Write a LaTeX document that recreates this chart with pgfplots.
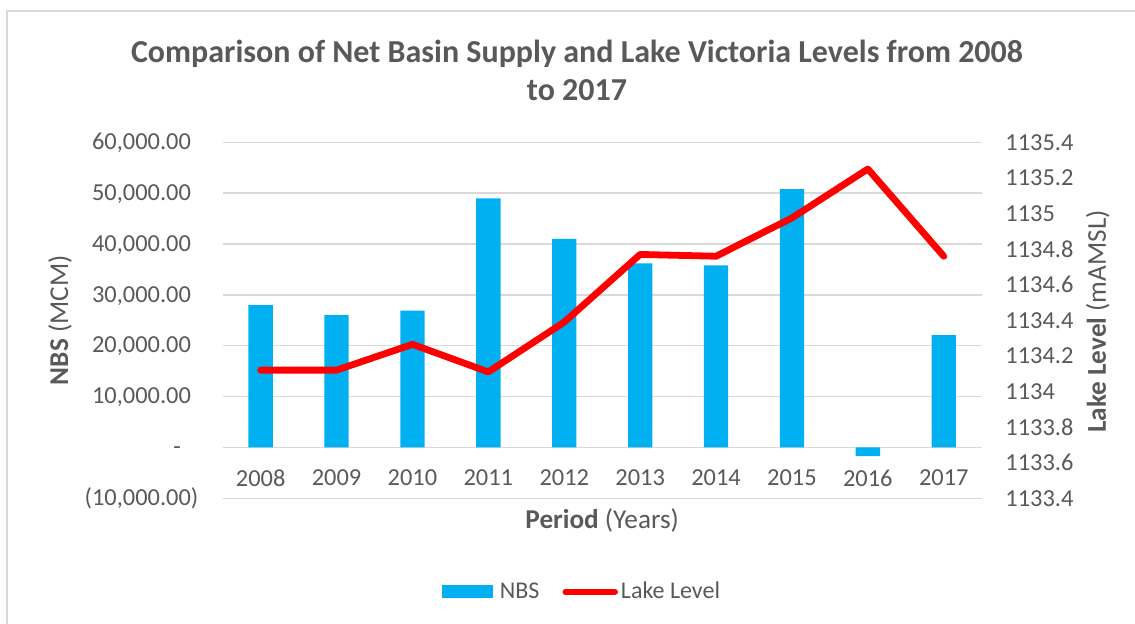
\documentclass[border=0pt]{standalone}
\usepackage{fontspec}
\setmainfont{Carlito}
\usepackage{pgfplots}
\pgfplotsset{compat=1.18}
\definecolor{txt}{HTML}{595959}
\definecolor{gridc}{HTML}{D9D9D9}
\definecolor{nbs}{HTML}{00B0F0}
\definecolor{lake}{HTML}{FF0000}
\begin{document}
\begin{tikzpicture}
\useasboundingbox (-111.35pt,-62.35pt) rectangle (456.15pt,249.15pt);
\draw[gridc, line width=0.75pt] (-107.85pt,-70pt) -- (-107.85pt,243.65pt) -- (460pt,243.65pt);
\node[anchor=base, text=txt, font=\fontsize{16}{19}\selectfont\bfseries] at (177.15pt,218.15pt) {Comparison of Net Basin Supply and Lake Victoria Levels from 2008};
\node[anchor=base, text=txt, font=\fontsize{16}{19}\selectfont\bfseries] at (177.15pt,199.15pt) {to 2017};
\begin{axis}[
  at={(0pt,0pt)}, anchor=south west,
  width=379.5pt, height=178pt, scale only axis,
  xmin=-0.5, xmax=9.5,
  ymin=-10000, ymax=60000,
  scaled y ticks=false,
  xtick={0,1,2,3,4,5,6,7,8,9},
  xticklabels={2008,2009,2010,2011,2012,2013,2014,2015,2016,2017},
  ytick={-10000,0,10000,20000,30000,40000,50000,60000},
  yticklabels={{(10,000.00)},{-\hspace{5pt}\phantom{)}},{10,000.00\phantom{)}},{20,000.00\phantom{)}},{30,000.00\phantom{)}},{40,000.00\phantom{)}},{50,000.00\phantom{)}},{60,000.00\phantom{)}}},
  major tick length=0pt,
  axis line style={draw=none},
  ymajorgrids,
  grid style={gridc, line width=0.75pt},
  tick label style={text=txt, font=\fontsize{12.2}{14}\selectfont},
  yticklabel style={anchor=east, inner sep=0pt, xshift=-12pt},
  xticklabel style={anchor=center, inner sep=0pt, yshift=10.15pt},
  xlabel={\textbf{Period} (Years)},
  xlabel style={at={(axis description cs:0.5,-0.061)}, anchor=center, text=txt, font=\fontsize{13.6}{16}\selectfont},
  ylabel={\textbf{NBS} (MCM)},
  ylabel style={at={(axis description cs:-0.2144,0.5)}, anchor=center, rotate=0, text=txt, font=\fontsize{13.6}{16}\selectfont},
  legend columns=2,
  legend style={at={(axis description cs:0.474,-0.263)}, anchor=center, draw=none, fill=none,
    font=\fontsize{12}{14}\selectfont, text=txt,
    /tikz/every even column/.append style={column sep=10pt},
    nodes={inner sep=1.5pt}},
]
\addplot[ybar, bar width=12.15pt, fill=nbs, draw=none,
  legend image code/.code={\fill[nbs] (0pt,-3.25pt) rectangle (25.5pt,3.25pt);}]
  coordinates {(0,28000) (1,26000) (2,26900) (3,49000) (4,41000) (5,36200) (6,35800) (7,50800) (8,-1700) (9,22100)};
\addlegendentry{\hspace{2pt}NBS}
\addlegendimage{legend image code/.code={\draw[lake, line width=3.25pt, line cap=round] (1.5pt,0pt) -- (26pt,0pt);}}
\addlegendentry{Lake Level}
\end{axis}
\begin{axis}[
  at={(0pt,0pt)}, anchor=south west,
  width=379.5pt, height=178pt, scale only axis,
  xmin=-0.5, xmax=9.5,
  ymin=1133.4, ymax=1135.4,
  xtick=\empty,
  ytick={1133.4,1133.6,1133.8,1134,1134.2,1134.4,1134.6,1134.8,1135,1135.2,1135.4},
  yticklabels={1133.4,1133.6,1133.8,1134,1134.2,1134.4,1134.6,1134.8,1135,1135.2,1135.4},
  yticklabel pos=right,
  major tick length=0pt,
  axis line style={draw=none},
  tick label style={text=txt, font=\fontsize{12.2}{14}\selectfont},
  yticklabel style={anchor=west, inner sep=0pt, xshift=11.65pt},
  ylabel={\textbf{Lake Level} (mAMSL)},
  ylabel style={at={(axis description cs:1.1528,0.497)}, anchor=center, rotate=0, text=txt, font=\fontsize{13.6}{16}\selectfont},
]
\addplot[lake, line width=3.4pt, line join=round, line cap=round]
  coordinates {(0,1134.12) (1,1134.12) (2,1134.265) (3,1134.11) (4,1134.39) (5,1134.77) (6,1134.76) (7,1134.975) (8,1135.25) (9,1134.76)};
\end{axis}
\end{tikzpicture}
\end{document}
